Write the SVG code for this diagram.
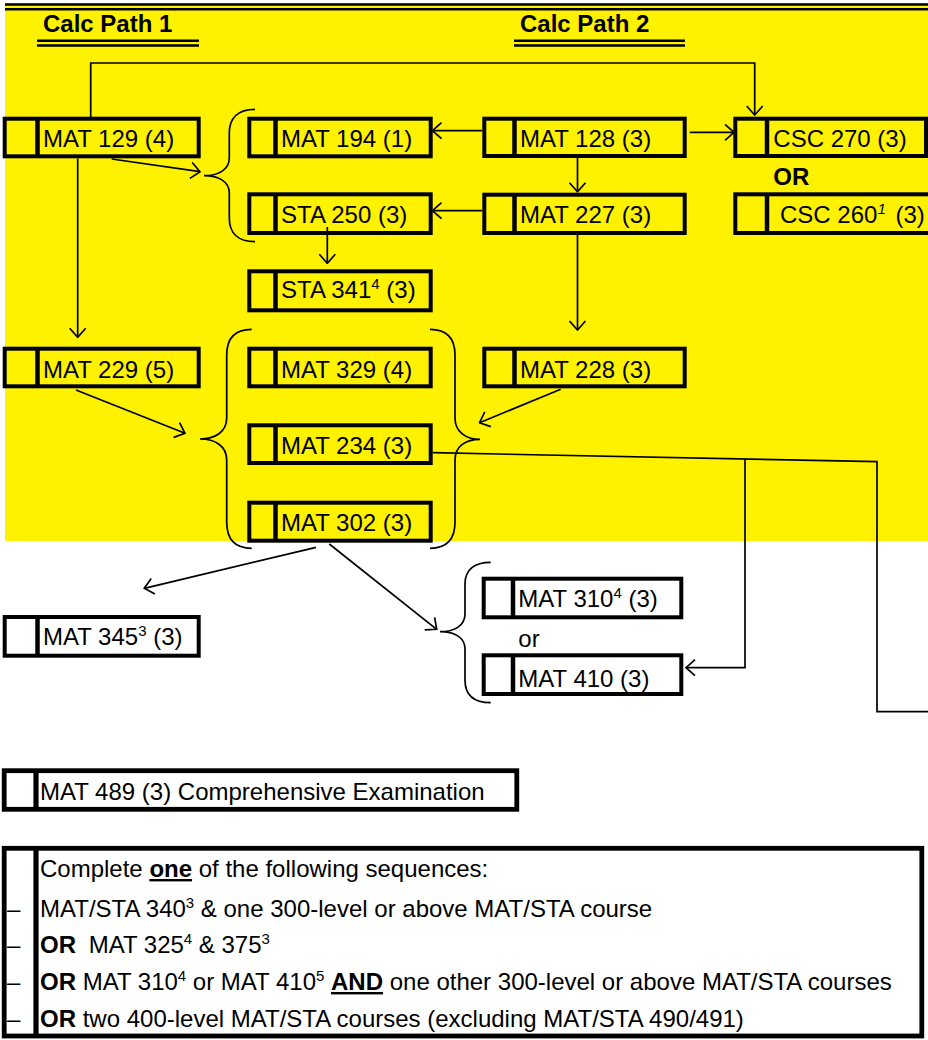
<svg xmlns="http://www.w3.org/2000/svg" width="928" height="1040" viewBox="0 0 928 1040">
<style>
text{font-family:"Liberation Sans",Arial,sans-serif;font-size:24px;fill:#000}
.b{font-weight:bold}
.box{fill:none;stroke:#000;stroke-width:4}
.box2{fill:none;stroke:#000;stroke-width:4.8}
.div{stroke:#000;stroke-width:4.5}
.div2{stroke:#000;stroke-width:5.2}
.ln{fill:none;stroke:#000;stroke-width:1.7}
.arr{fill:none;stroke:#000;stroke-width:1.7;marker-end:url(#arr)}
.brace{fill:none;stroke:#000;stroke-width:1.7}
.dbl{stroke:#000;stroke-width:2.5}
.sup{font-size:15px}
</style>
<defs>
<marker id="arr" viewBox="-1 -9 11 18" refX="9" refY="0" markerWidth="11" markerHeight="18" markerUnits="userSpaceOnUse" orient="auto">
<path d="M0,-8 L9,0 L0,8" fill="none" stroke="#000" stroke-width="1.7"/>
</marker>
</defs>
<rect width="928" height="1040" fill="#fff"/>
<g id="background">
<rect x="5" y="3" width="923" height="538" fill="#FFF200"/>
<line class="dbl" x1="5" y1="4.5" x2="928" y2="4.5"/>
<line class="dbl" x1="5" y1="9.3" x2="928" y2="9.3"/>
</g>
<g id="headers">
<text class="b" x="43" y="31.5">Calc Path 1</text>
<line class="dbl" x1="37" y1="40.7" x2="199" y2="40.7"/>
<line class="dbl" x1="37" y1="45.5" x2="199" y2="45.5"/>
<text class="b" x="520" y="31.5">Calc Path 2</text>
<line class="dbl" x1="514" y1="40.7" x2="685" y2="40.7"/>
<line class="dbl" x1="514" y1="45.5" x2="685" y2="45.5"/>
</g>
<g id="connectors">
<path class="arr" d="M90.7,117 L90.7,63 L754.7,63 L754.7,115"/>
<path class="arr" d="M689.7,132.3 L734,132.3"/>
<path class="arr" d="M482,130.7 L432.5,130.7"/>
<path class="arr" d="M482,210.7 L432.5,210.7"/>
<path class="arr" d="M577.5,158 L577.5,191.7"/>
<path class="arr" d="M111.7,159 L200,171.7"/>
<path class="arr" d="M327.3,227 L327.3,263.3"/>
<path class="arr" d="M77.7,158.5 L77.7,337.3"/>
<path class="arr" d="M577.5,235 L577.5,330"/>
<path class="arr" d="M76,390 L185,433.3"/>
<path class="arr" d="M560.7,389.3 L479.5,422.7"/>
<path class="arr" d="M316,547.3 L144.3,588.3"/>
<path class="arr" d="M329.3,544 L436.7,629.3"/>
<path class="ln" d="M432.7,452.7 L877,461.7 L877,711.7 L928,711.7"/>
<path class="arr" d="M745,459.3 L745,667.7 L686,667.7"/>
<path class="brace" d="M255,109.3 C238,109.3 229.3,118 229.3,133 L229.3,158 C229.3,170 218,175.7 204,175.7 C218,175.7 229.3,181 229.3,193 L229.3,218 C229.3,233 238,241.7 255,241.7"/>
<path class="brace" d="M251.7,329.3 C235,329.3 226.7,338 226.7,355 L226.7,418 C226.7,432 215,439 200,439 C215,439 226.7,446 226.7,460 L226.7,522 C226.7,539 235,548.3 251.7,548.3"/>
<path class="brace" d="M430,329.3 C447,329.3 455,338 455,355 L455,418 C455,432 466,439.3 480,439.3 C466,439.3 455,446 455,460 L455,522 C455,539 447,548.3 430,548.3"/>
<path class="brace" d="M490.7,562.3 C474,562.3 465,570 465,584 L465,614 C465,626 454,631.7 440,631.7 C454,631.7 465,637 465,649 L465,680 C465,695 474,702.7 490.7,702.7"/>
</g>
<g id="n-mat129"><rect class="box" x="4.7" y="118.7" width="194" height="37.6"/><line class="div" x1="37.5" y1="118.7" x2="37.5" y2="156.3"/><text x="43" y="147.3">MAT 129 (4)</text></g>
<g id="n-mat194"><rect class="box" x="249.3" y="118.7" width="181.4" height="37.6"/><line class="div" x1="275.5" y1="118.7" x2="275.5" y2="156.3"/><text x="281" y="147.3">MAT 194 (1)</text></g>
<g id="n-mat128"><rect class="box" x="484.3" y="118.7" width="200.4" height="37.3"/><line class="div" x1="514.5" y1="118.7" x2="514.5" y2="156"/><text x="520" y="147.3">MAT 128 (3)</text></g>
<g id="n-csc270"><rect class="box" x="735.3" y="118.7" width="190.7" height="37.3"/><line class="div" x1="767" y1="118.7" x2="767" y2="156"/><text x="773.3" y="147.3">CSC 270 (3)</text></g>
<g id="n-or"><text class="b" x="773.3" y="185">OR</text></g>
<g id="n-sta250"><rect class="box" x="249.3" y="194.3" width="181.4" height="38.7"/><line class="div" x1="275.5" y1="194.3" x2="275.5" y2="233"/><text x="281" y="223.3">STA 250 (3)</text></g>
<g id="n-mat227"><rect class="box" x="484.3" y="194.7" width="200.4" height="38.3"/><line class="div" x1="514.5" y1="194.7" x2="514.5" y2="233"/><text x="520" y="223.3">MAT 227 (3)</text></g>
<g id="n-csc260"><rect class="box" x="735.3" y="194.3" width="200" height="38.7"/><line class="div" x1="767" y1="194.3" x2="767" y2="233"/><text x="780" y="223.3">CSC 260<tspan class="sup" font-style="italic" dy="-9">1</tspan><tspan dx="3" dy="9"> (3)</tspan></text></g>
<g id="n-sta341"><rect class="box" x="249.3" y="271.3" width="181.4" height="39"/><line class="div" x1="275.5" y1="271.3" x2="275.5" y2="310.3"/><text x="281" y="298.3">STA 341<tspan class="sup" dy="-9">4</tspan><tspan dy="9"> (3)</tspan></text></g>
<g id="n-mat229"><rect class="box" x="4.7" y="348.7" width="194" height="37.6"/><line class="div" x1="37.5" y1="348.7" x2="37.5" y2="386.3"/><text x="43" y="377.7">MAT 229 (5)</text></g>
<g id="n-mat329"><rect class="box" x="249.3" y="348.7" width="181.4" height="37.6"/><line class="div" x1="275.5" y1="348.7" x2="275.5" y2="386.3"/><text x="281" y="377.7">MAT 329 (4)</text></g>
<g id="n-mat228"><rect class="box" x="484.3" y="348.7" width="200.4" height="37.6"/><line class="div" x1="514.5" y1="348.7" x2="514.5" y2="386.3"/><text x="520" y="377.7">MAT 228 (3)</text></g>
<g id="n-mat234"><rect class="box" x="249.3" y="425.3" width="181.4" height="37.7"/><line class="div" x1="275.5" y1="425.3" x2="275.5" y2="463"/><text x="281" y="454">MAT 234 (3)</text></g>
<g id="n-mat302"><rect class="box" x="249.3" y="502.7" width="181.4" height="38"/><line class="div" x1="275.5" y1="502.7" x2="275.5" y2="540.7"/><text x="281" y="530.7">MAT 302 (3)</text></g>
<g id="n-mat345"><rect class="box" x="4.7" y="617" width="194" height="38.7"/><line class="div" x1="37.5" y1="617" x2="37.5" y2="655.7"/><text x="43" y="645">MAT 345<tspan class="sup" dy="-9">3</tspan><tspan dy="9"> (3)</tspan></text></g>
<g id="n-mat310"><rect class="box" x="483.7" y="578.7" width="197.6" height="38.6"/><line class="div" x1="513" y1="578.7" x2="513" y2="617.3"/><text x="518.3" y="606.7">MAT 310<tspan class="sup" dy="-9">4</tspan><tspan dy="9"> (3)</tspan></text></g>
<g id="n-or2"><text x="518.3" y="647.3">or</text></g>
<g id="n-mat410"><rect class="box" x="483.7" y="655.3" width="197.6" height="38.7"/><line class="div" x1="513" y1="655.3" x2="513" y2="694"/><text x="518.3" y="686.7">MAT 410 (3)</text></g>
<g id="n-mat489"><rect class="box2" x="4.2" y="770.7" width="512.6" height="38.6"/><line class="div2" x1="36" y1="770.7" x2="36" y2="809.3"/><text x="40" y="800">MAT 489 (3) Comprehensive Examination</text></g>
<g id="n-sequences">
<rect class="box2" x="4.2" y="848.3" width="917.6" height="187.7"/>
<line class="div2" x1="36" y1="848.3" x2="36" y2="1036"/>
<text x="40" y="877">Complete <tspan class="b" text-decoration="underline">one</tspan> of the following sequences:</text>
<text x="7" y="917" font-size="14">–</text>
<text x="40" y="917">MAT/STA 340<tspan class="sup" dy="-9">3</tspan><tspan dy="9"> &amp; one 300-level or above MAT/STA course</tspan></text>
<text x="7" y="953" font-size="14">–</text>
<text x="40" y="953"><tspan class="b">OR</tspan>  <tspan dx="6">MAT 325</tspan><tspan class="sup" dy="-9">4</tspan><tspan dy="9"> &amp; 375</tspan><tspan class="sup" dy="-9">3</tspan></text>
<text x="7" y="990" font-size="14">–</text>
<text x="40" y="990"><tspan class="b">OR</tspan> MAT 310<tspan class="sup" dy="-9">4</tspan><tspan dy="9"> or MAT 410</tspan><tspan class="sup" dy="-9">5</tspan><tspan dy="9"> </tspan><tspan class="b" text-decoration="underline">AND</tspan> one other 300-level or above MAT/STA courses</text>
<text x="7" y="1027.3" font-size="14">–</text>
<text x="40" y="1027.3"><tspan class="b">OR</tspan> two 400-level MAT/STA courses (excluding MAT/STA 490/491)</text>
</g>
</svg>
